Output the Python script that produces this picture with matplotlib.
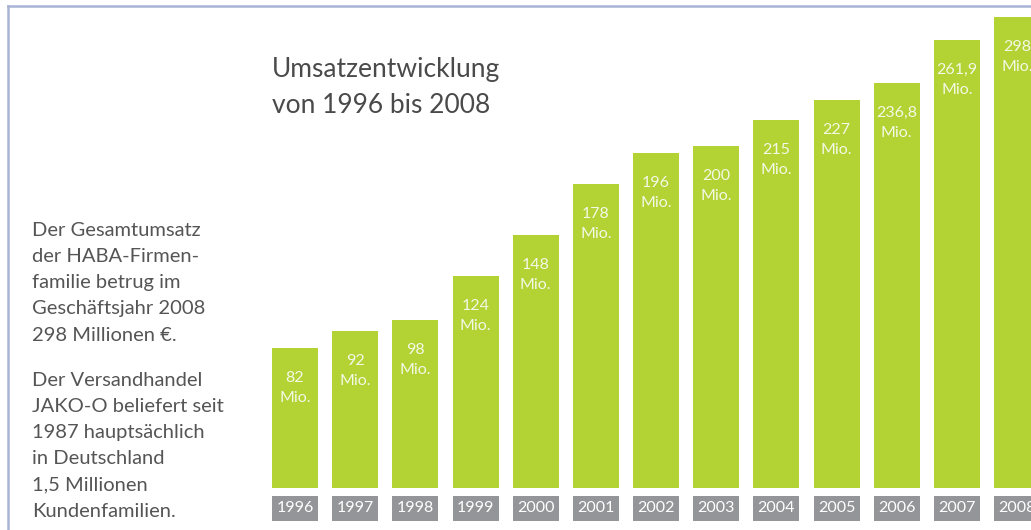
import matplotlib
matplotlib.use("Agg")
import matplotlib.pyplot as plt
from matplotlib.lines import Line2D

years = ["1996", "1997", "1998", "1999", "2000", "2001", "2002",
         "2003", "2004", "2005", "2006", "2007", "2008"]
umsatz = [82, 92, 98, 124, 148, 178, 196, 200, 215, 227, 236.8, 261.9, 298]
labels = ["82", "92", "98", "124", "148", "178", "196",
          "200", "215", "227", "236,8", "261,9", "298"]

GREEN = "#b3d334"
GRAY = "#939598"
TEXT = "#555555"
BORDER = "#a9b3d6"

plt.rcParams["font.family"] = ["Lato", "DejaVu Sans"]

W, H = 1031, 530
fig = plt.figure(figsize=(W / 100, H / 100), dpi=100)

# axes in pixel layout: bar baseline at y=488 (from top), 1.71 px per Mio.
step = 60.17
x0 = 295
base = H - 488
scale = 1.71
top_px = 17
ax = fig.add_axes([0, 0, 1, (H - top_px) / H])
ax.set_xlim((0 - x0) / step, (W - x0) / step)
ax.set_ylim(-base / scale, (H - top_px - base) / scale)
ax.axis("off")

x = list(range(len(years)))
ymax = ax.get_ylim()[1]
ax.bar(x, umsatz, width=46 / step, color=GREEN, linewidth=0)

for xi, v, lab in zip(x, umsatz, labels):
    top = min(v, ymax)
    ax.text(xi, top - 30 / scale, lab, ha="center", va="center",
            color="#f4f8e6", fontsize=11.5)
    ax.text(xi, top - 50 / scale, "Mio.", ha="center", va="center",
            color="#f4f8e6", fontsize=11.5)

# year boxes
box_bottom = (H - 521 - base) / scale
box_h = 25 / scale
ax.bar(x, [box_h] * len(x), bottom=box_bottom, width=46 / step,
       color=GRAY, linewidth=0, clip_on=False)
for xi, yr in zip(x, years):
    ax.text(xi, box_bottom + box_h / 2, yr, ha="center", va="center",
            color="white", fontsize=11.5)

# title
fig.text(272 / W, 1 - 70 / H, "Umsatzentwicklung", fontsize=19,
         color="#4a4a4a", va="center", ha="left")
fig.text(272 / W, 1 - 105 / H, "von 1996 bis 2008", fontsize=19,
         color="#4a4a4a", va="center", ha="left")

# left text
lines1 = ["Der Gesamtumsatz", "der HABA-Firmen-", "familie betrug im",
          "Geschäftsjahr 2008", "298 Millionen €."]
lines2 = ["Der Versandhandel", "JAKO-O beliefert seit", "1987 hauptsächlich",
          "in Deutschland", "1,5 Millionen", "Kundenfamilien."]
for i, t in enumerate(lines1):
    fig.text(32 / W, 1 - (230 + 26.3 * i) / H, t, fontsize=14.5,
             color=TEXT, va="center", ha="left")
for i, t in enumerate(lines2):
    fig.text(32 / W, 1 - (380 + 26.3 * i) / H, t, fontsize=14.5,
             color=TEXT, va="center", ha="left")

# frame lines
fig.add_artist(Line2D([7.5 / W, 7.5 / W], [0, 1 - 6 / H], color=BORDER, lw=1.8))
fig.add_artist(Line2D([7.5 / W, 1], [1 - 6 / H, 1 - 6 / H], color=BORDER, lw=1.8))

fig.savefig("out.png", dpi=100)
